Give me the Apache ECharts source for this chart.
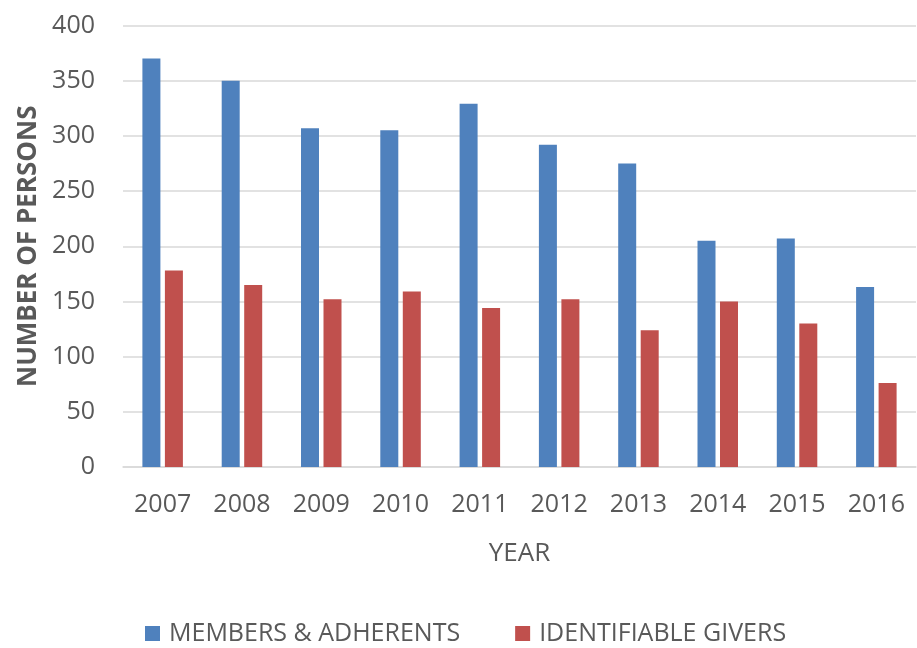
<!DOCTYPE html>
<html>
<head>
<meta charset="utf-8">
<script src="https://cdn.jsdelivr.net/npm/echarts@6/dist/echarts.min.js"></script>
<style>html,body{margin:0;padding:0;background:#fff;}#c{width:917px;height:648px;}</style>
</head>
<body>
<div id="c"></div>
<script>
const years = ['2007','2008','2009','2010','2011','2012','2013','2014','2015','2016'];
const members = [370, 350, 307, 305, 329, 292, 275, 205, 207, 163];
const givers = [178, 165, 152, 159, 144, 152, 124, 150, 130, 76];
const yTicks = {min: 0, max: 400, interval: 50};

const chart = echarts.init(document.getElementById('c'));
const font = '"Open Sans", "Liberation Sans", sans-serif';
chart.setOption({
  animation: false,
  backgroundColor: '#fff',
  textStyle: {fontFamily: font},
  grid: {left: 123, right: 1, top: 25.5, bottom: 181, containLabel: false},
  legend: {
    top: 616, left: 140, itemWidth: 15, itemHeight: 15, itemGap: 55,
    icon: 'rect',
    textStyle: {color: '#595959', fontSize: 25, fontFamily: font, padding: [0, 0, 0, 4]},
    data: ['MEMBERS & ADHERENTS', 'IDENTIFIABLE GIVERS']
  },
  xAxis: {
    type: 'category', data: years,
    name: 'YEAR', nameLocation: 'middle', nameGap: 74,
    nameTextStyle: {color: '#595959', fontSize: 26, fontFamily: font},
    axisTick: {show: false},
    axisLine: {lineStyle: {color: '#d9d9d9', width: 1.5}},
    axisLabel: {color: '#595959', fontSize: 25, margin: 25, fontFamily: font}
  },
  yAxis: {
    type: 'value', min: yTicks.min, max: yTicks.max, interval: yTicks.interval,
    name: 'NUMBER OF PERSONS', nameLocation: 'middle', nameGap: 80,
    nameTextStyle: {color: '#595959', fontSize: 26, fontWeight: 'bold', fontFamily: font},
    axisLine: {show: false}, axisTick: {show: false},
    splitLine: {lineStyle: {color: '#d9d9d9', width: 1.5}},
    axisLabel: {color: '#595959', fontSize: 25, margin: 28, fontFamily: font}
  },
  series: [
    {name: 'MEMBERS & ADHERENTS', type: 'bar', data: members, barWidth: 18, barGap: '25%',
     itemStyle: {color: '#4f81bd'}},
    {name: 'IDENTIFIABLE GIVERS', type: 'bar', data: givers, barWidth: 18, barGap: '25%',
     itemStyle: {color: '#c0504d'}}
  ]
});
</script>
</body>
</html>
